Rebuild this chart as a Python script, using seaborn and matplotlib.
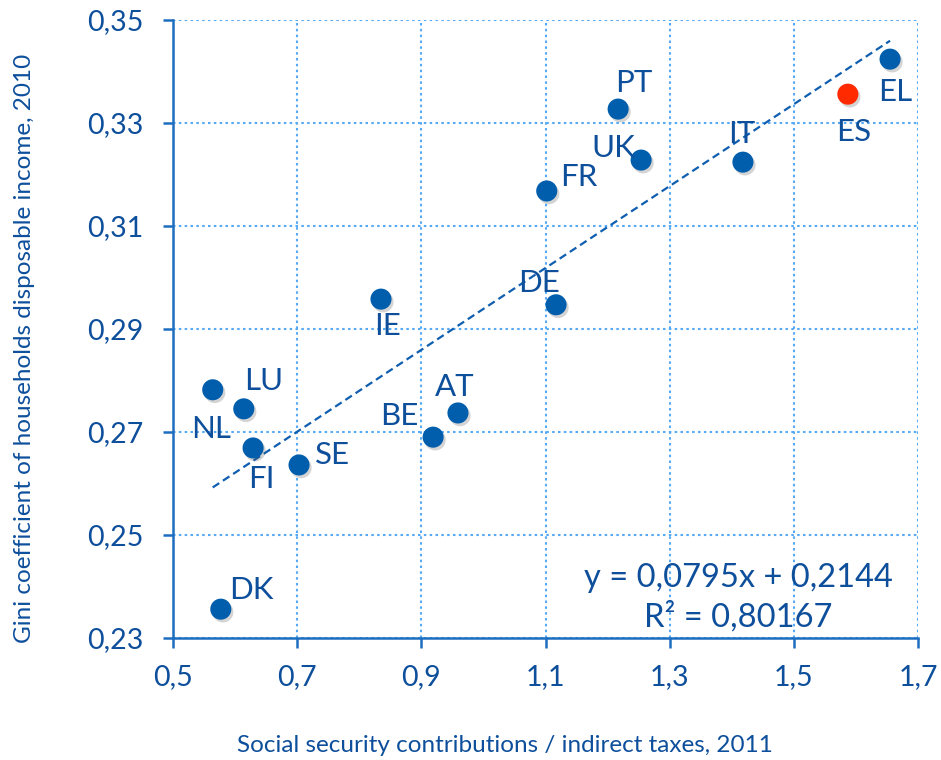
import matplotlib
matplotlib.use("Agg")
import matplotlib.pyplot as plt
import matplotlib.patheffects as pe
from matplotlib.ticker import FixedLocator, FuncFormatter
import numpy as np
import pandas as pd
import seaborn as sns

# Country data: social security contributions / indirect taxes (2011) vs Gini (2010)
countries = ["EL", "ES", "PT", "UK", "IT", "FR", "DE", "IE",
             "LU", "NL", "FI", "SE", "BE", "AT", "DK"]
ssc_ratio = [1.655, 1.587, 1.217, 1.254, 1.418, 1.102, 1.117, 0.835,
             0.614, 0.564, 0.629, 0.703, 0.919, 0.959, 0.577]
gini = [0.3424, 0.3356, 0.3327, 0.3228, 0.3224, 0.3168, 0.2947, 0.2958,
        0.2745, 0.2782, 0.2669, 0.2636, 0.2690, 0.2737, 0.2356]
highlight = ["other", "Spain", "other", "other", "other", "other", "other", "other",
             "other", "other", "other", "other", "other", "other", "other"]

# Linear trend reported on the chart
slope, intercept, r2 = 0.0795, 0.2144, 0.80167

x_ticks = [0.5, 0.7, 0.9, 1.1, 1.3, 1.5, 1.7]
y_ticks = [0.23, 0.25, 0.27, 0.29, 0.31, 0.33, 0.35]

# label offsets in points (dx, dy) relative to each marker
label_offsets = {
    "EL": (4, -24), "ES": (4, -27), "PT": (11, 19), "UK": (-20, 9),
    "IT": (-1, 20), "FR": (23, 10), "DE": (-12, 16), "IE": (5, -19),
    "LU": (14, 20), "NL": (-1, -28), "FI": (6, -22), "SE": (24, 7),
    "BE": (-24, 15), "AT": (-2, 19), "DK": (22, 14),
}

df = pd.DataFrame({"country": countries, "x": ssc_ratio, "y": gini, "group": highlight})

TEXT = "#0E4F9C"
AXIS = "#1E6EC0"
GRID = "#55A9F5"
DOT = "#005EAD"
RED = "#FF2A00"

sns.set_theme(style="white")
plt.rcParams["font.family"] = ["Lato", "DejaVu Sans"]

fig = plt.figure(figsize=(9.41, 7.60), dpi=100)
ax = fig.add_axes([173 / 941, 1 - 638 / 760, (918 - 173) / 941, (638 - 20) / 760])

sns.scatterplot(data=df, x="x", y="y", hue="group",
                palette={"other": DOT, "Spain": RED},
                s=230, edgecolor="none", legend=False, ax=ax, zorder=4)
for coll in ax.collections:
    coll.set_path_effects([pe.SimplePatchShadow(offset=(1.5, -2), alpha=0.25, shadow_rgbFace="#555555"),
                           pe.Normal()])

# dashed trend line across the data range
xs = np.array([min(ssc_ratio), max(ssc_ratio)])
ax.plot(xs, slope * xs + intercept, linestyle=(0, (3.5, 2)), color="#0F5EB0", lw=1.6, zorder=3)

for c, xv, yv in zip(countries, ssc_ratio, gini):
    dx, dy = label_offsets[c]
    ax.annotate(c, (xv, yv), xytext=(dx, dy), textcoords="offset points",
                ha="center", va="center", fontsize=22.5, color=TEXT, zorder=5)

ax.set_xlim(0.5, 1.7)
ax.set_ylim(0.23, 0.35)
ax.xaxis.set_major_locator(FixedLocator(x_ticks))
ax.yaxis.set_major_locator(FixedLocator(y_ticks))
ax.xaxis.set_major_formatter(FuncFormatter(lambda v, p: f"{v:.1f}".replace(".", ",")))
ax.yaxis.set_major_formatter(FuncFormatter(lambda v, p: f"{v:.2f}".replace(".", ",")))

ax.grid(True, linestyle=(0, (1.2, 1.6)), color=GRID, lw=1.5)
ax.set_axisbelow(True)
for side in ["top", "right"]:
    ax.spines[side].set_visible(False)
for side in ["left", "bottom"]:
    ax.spines[side].set_color(AXIS)
    ax.spines[side].set_linewidth(1.8)

ax.tick_params(axis="both", which="major", direction="out", length=7, width=1.8,
               color=AXIS, labelcolor=TEXT, labelsize=20.5, bottom=True, left=True)
ax.tick_params(axis="x", pad=12)
ax.tick_params(axis="y", pad=14)

ax.set_xlabel("Social security contributions / indirect taxes, 2011", fontsize=17.5,
              color=TEXT, va="center")
ax.set_ylabel("Gini coefficient of households disposable income, 2010", fontsize=17.5,
              color=TEXT, va="center")
ax.xaxis.set_label_coords(0.446, -0.174)
ax.yaxis.set_label_coords(-0.199, 0.468)

eq = f"y = {slope:.4f}x + {intercept:.4f}".replace(".", ",")
r2txt = f"R² = {r2:.5f}".replace(".", ",")
ax.text(1.41, 0.2417, eq, ha="center", va="center", fontsize=23.5, color=TEXT, zorder=5)
ax.text(1.41, 0.2341, r2txt, ha="center", va="center", fontsize=23.5, color=TEXT, zorder=5)

fig.savefig("out.png", dpi=100)
